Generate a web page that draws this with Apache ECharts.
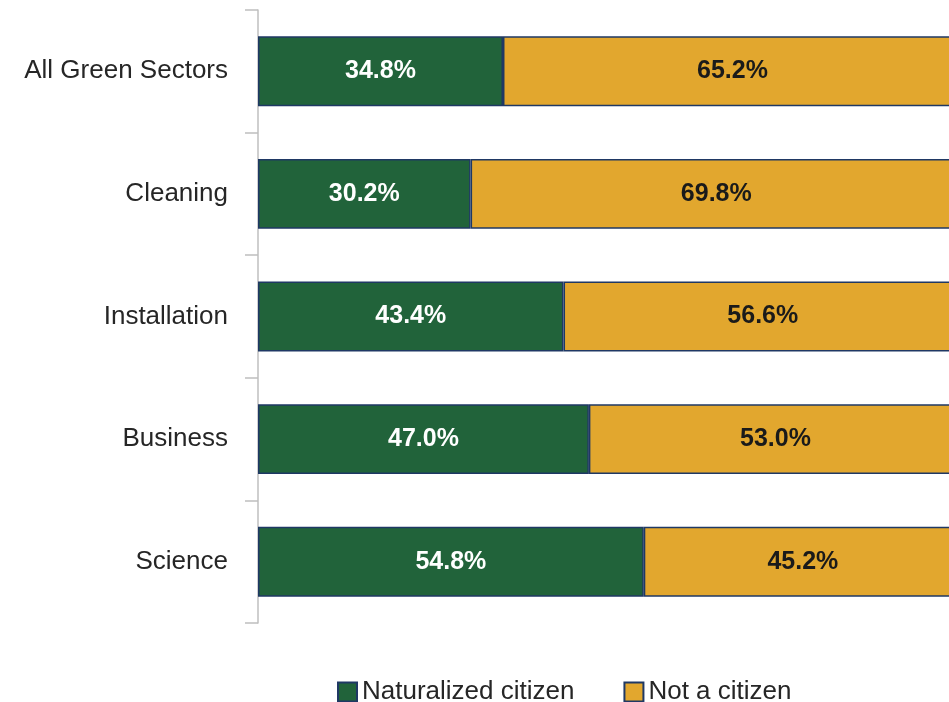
<!DOCTYPE html>
<html>
<head>
<meta charset="utf-8">
<script src="https://cdn.jsdelivr.net/npm/echarts@6/dist/echarts.min.js"></script>
<style>
  html, body { margin: 0; padding: 0; background: #fff; }
  #main { width: 949px; height: 702px; }
</style>
</head>
<body>
<div id="main"></div>
<script>
// data
var sectors = ['All Green Sectors', 'Cleaning', 'Installation', 'Business', 'Science'];
var naturalized = [34.8, 30.2, 43.4, 47.0, 54.8];
var notCitizen = [65.2, 69.8, 56.6, 53.0, 45.2];

var chart = echarts.init(document.getElementById('main'));
var font = '"Liberation Sans", Arial, sans-serif';

function pct(p) { return p.value.toFixed(1) + '%'; }

var option = {
  animation: false,
  textStyle: { fontFamily: font },
  // the original is cropped on the right: 100% sits ~13px past the edge
  grid: { left: 258, top: 10, width: 704, height: 613, containLabel: false, outerBoundsMode: 'none' },
  legend: {
    left: 337,
    top: 679,
    padding: 0,
    itemWidth: 19,
    itemHeight: 19,
    itemGap: 49,
    icon: 'rect',
    textStyle: { fontSize: 26, color: '#262626', fontFamily: font },
    data: ['Naturalized citizen', 'Not a citizen']
  },
  xAxis: {
    type: 'value',
    min: 0,
    max: 100,
    show: false
  },
  yAxis: {
    type: 'category',
    inverse: true,
    data: sectors,
    axisLine: { lineStyle: { color: '#bfbfbf', width: 1.5 } },
    axisTick: { show: true, length: 13, lineStyle: { color: '#bfbfbf', width: 1.5 } },
    axisLabel: { margin: 30, fontSize: 26, color: '#262626', fontFamily: font }
  },
  series: [
    {
      name: 'Naturalized citizen',
      type: 'bar',
      stack: 'total',
      barWidth: '57%',
      data: naturalized,
      itemStyle: { color: '#21633a', borderColor: '#1f3864', borderWidth: 1.5 },
      label: {
        show: true, position: 'inside', formatter: pct,
        color: '#ffffff', fontSize: 25, fontWeight: 'bold', fontFamily: font
      }
    },
    {
      name: 'Not a citizen',
      type: 'bar',
      stack: 'total',
      barWidth: '57%',
      data: notCitizen,
      itemStyle: { color: '#e2a72e', borderColor: '#1f3864', borderWidth: 1.5 },
      label: {
        show: true, position: 'inside', formatter: pct,
        color: '#1a1a1a', fontSize: 25, fontWeight: 'bold', fontFamily: font
      }
    }
  ]
};
chart.setOption(option);
</script>
</body>
</html>
